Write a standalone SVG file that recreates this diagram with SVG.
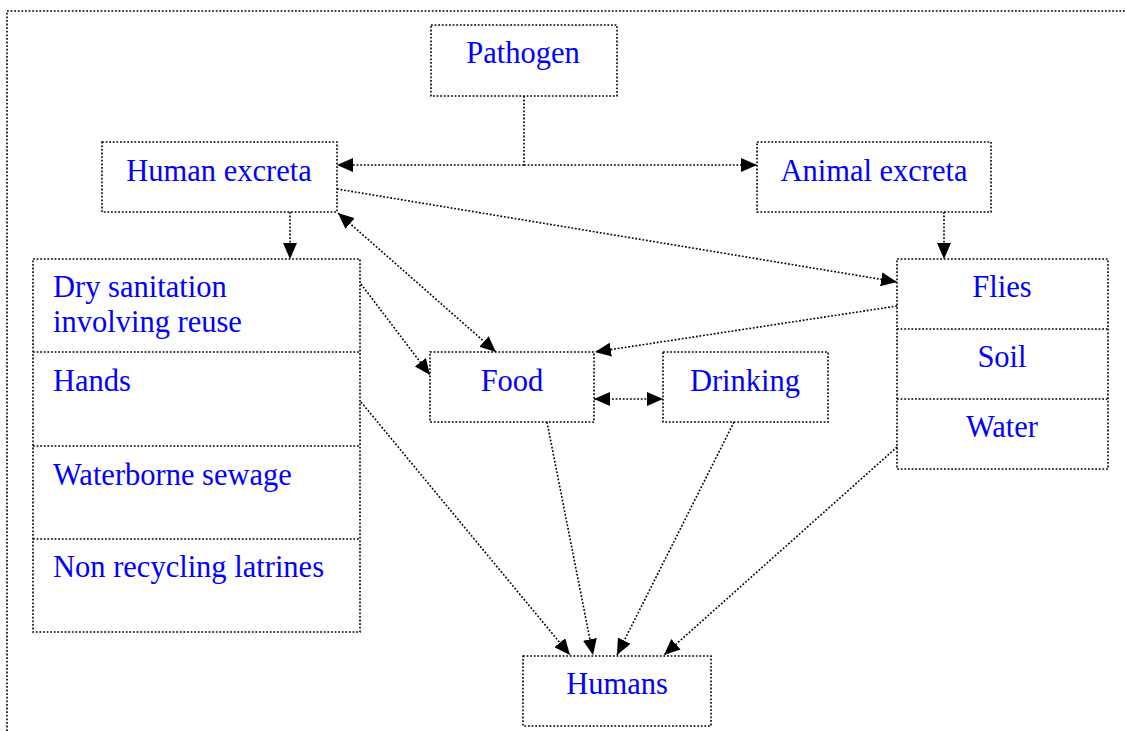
<svg xmlns="http://www.w3.org/2000/svg" width="1125" height="731" viewBox="0 0 1125 731">
<style>
.box{fill:none;stroke:#000;stroke-width:1.6;stroke-dasharray:1.8 1.8}
.ln{fill:none;stroke:#000;stroke-width:1.6;stroke-dasharray:1.8 1.8}
.lbl{font-family:"Liberation Serif","Times New Roman",serif;font-size:30.5px;fill:#0000ff}
.c{text-anchor:middle}
</style>
<defs>
<marker id="ah" markerUnits="userSpaceOnUse" markerWidth="16" markerHeight="14" refX="16" refY="7" orient="auto-start-reverse" viewBox="0 0 16 14">
<path d="M0,0 L16,7 L0,14 z" fill="#000"/>
</marker>
</defs>
<rect width="1125" height="731" fill="#fff"/>
<path class="box" d="M7,731 V11 H1125"/>
<g id="pathogen"><rect class="box" x="431" y="25" width="186" height="71"/><text class="lbl c" x="523" y="63">Pathogen</text></g>
<g id="human-excreta"><rect class="box" x="102" y="142" width="235" height="70"/><text class="lbl c" x="219" y="181">Human excreta</text></g>
<g id="animal-excreta"><rect class="box" x="757" y="142" width="234" height="70"/><text class="lbl c" x="874" y="181">Animal excreta</text></g>
<g id="left-stack">
<rect class="box" x="33" y="259" width="327" height="373"/>
<path class="box" d="M33,352 H360 M33,446 H360 M33,539 H360"/>
<text class="lbl" x="53" y="297">Dry sanitation</text>
<text class="lbl" x="53" y="332">involving reuse</text>
<text class="lbl" x="53" y="391">Hands</text>
<text class="lbl" x="53" y="485">Waterborne sewage</text>
<text class="lbl" x="53" y="577">Non recycling latrines</text>
</g>
<g id="right-stack">
<rect class="box" x="897" y="259" width="211" height="210"/>
<path class="box" d="M897,329 H1108 M897,399 H1108"/>
<text class="lbl c" x="1002" y="297">Flies</text>
<text class="lbl c" x="1002" y="367">Soil</text>
<text class="lbl c" x="1002" y="437">Water</text>
</g>
<g id="food"><rect class="box" x="430" y="352" width="164" height="70"/><text class="lbl c" x="512" y="391">Food</text></g>
<g id="drinking"><rect class="box" x="663" y="352" width="165" height="70"/><text class="lbl c" x="745" y="391">Drinking</text></g>
<g id="humans"><rect class="box" x="523" y="656" width="188" height="70"/><text class="lbl c" x="617" y="694">Humans</text></g>
<g id="connectors">
<path class="ln" d="M524,96 V165"/>
<path class="ln" d="M524,165 H337" marker-end="url(#ah)"/>
<path class="ln" d="M524,165 H757" marker-end="url(#ah)"/>
<path class="ln" d="M290,212 V259" marker-end="url(#ah)"/>
<path class="ln" d="M944,212 V259" marker-end="url(#ah)"/>
<path class="ln" d="M338,213 L496,352" marker-start="url(#ah)" marker-end="url(#ah)"/>
<path class="ln" d="M337,189 L897,282" marker-end="url(#ah)"/>
<path class="ln" d="M897,306 L595,352" marker-end="url(#ah)"/>
<path class="ln" d="M361,284 L430,375" marker-end="url(#ah)"/>
<path class="ln" d="M594,399 H663" marker-start="url(#ah)" marker-end="url(#ah)"/>
<path class="ln" d="M361,402 L570,655" marker-end="url(#ah)"/>
<path class="ln" d="M547,422 L593,655" marker-end="url(#ah)"/>
<path class="ln" d="M734,422 L617,655" marker-end="url(#ah)"/>
<path class="ln" d="M897,447 L664,655" marker-end="url(#ah)"/>
</g>
</svg>
